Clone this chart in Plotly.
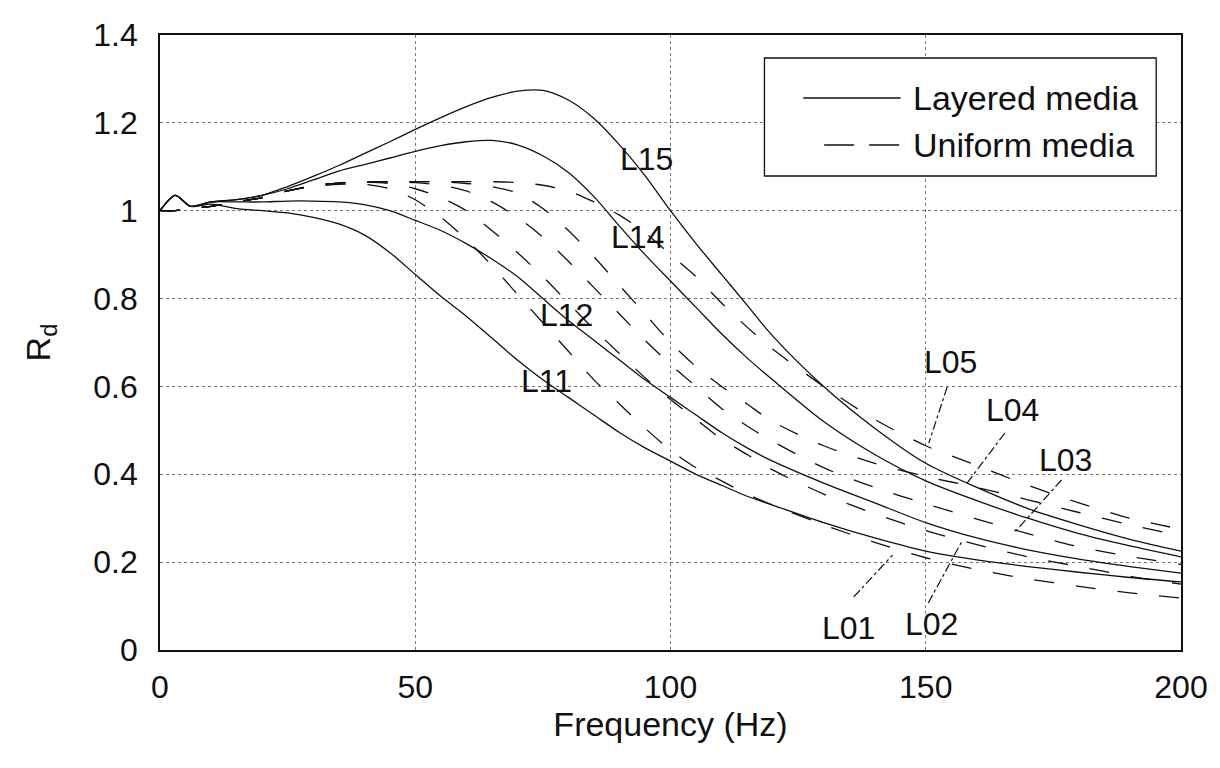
import plotly.graph_objects as go

# Frequency grid (Hz) shared by every curve
freq = [0, 3, 6, 10, 15, 20, 25, 30, 35, 40, 45, 50, 55, 60, 65, 70, 75, 80, 85,
        90, 95, 100, 105, 110, 115, 120, 130, 140, 150, 160, 170, 180, 190, 200]

# Layered media responses R_d
L11 = [1.0, 1.035, 1.01, 1.015, 1.005, 1.0, 0.995, 0.985, 0.97, 0.945, 0.905, 0.855, 0.805,
       0.76, 0.71, 0.66, 0.615, 0.575, 0.535, 0.495, 0.46, 0.43, 0.40, 0.375, 0.35, 0.33,
       0.29, 0.255, 0.225, 0.205, 0.19, 0.177, 0.165, 0.155]
L12 = [1.0, 1.035, 1.01, 1.02, 1.02, 1.02, 1.022, 1.022, 1.02, 1.014, 1.0, 0.978, 0.955,
       0.925, 0.89, 0.85, 0.80, 0.75, 0.705, 0.66, 0.615, 0.575, 0.535, 0.495, 0.46, 0.43,
       0.38, 0.335, 0.29, 0.255, 0.228, 0.207, 0.19, 0.175]
L14 = [1.0, 1.035, 1.01, 1.02, 1.025, 1.035, 1.05, 1.07, 1.09, 1.105, 1.12, 1.135, 1.148,
       1.157, 1.16, 1.15, 1.125, 1.087, 1.032, 0.965, 0.9, 0.84, 0.78, 0.72, 0.665, 0.615,
       0.52, 0.445, 0.385, 0.34, 0.30, 0.265, 0.237, 0.212]
L15 = [1.0, 1.035, 1.01, 1.02, 1.025, 1.035, 1.055, 1.078, 1.103, 1.13, 1.157, 1.185, 1.212,
       1.237, 1.258, 1.272, 1.274, 1.252, 1.21, 1.15, 1.08, 1.0, 0.925, 0.855, 0.785, 0.715,
       0.6, 0.505, 0.425, 0.37, 0.322, 0.285, 0.252, 0.225]

# Uniform media responses R_d
L01 = [1.0, 1.0, 1.005, 1.01, 1.02, 1.03, 1.045, 1.055, 1.06, 1.06, 1.05, 1.025, 0.985,
       0.935, 0.875, 0.81, 0.745, 0.68, 0.615, 0.56, 0.505, 0.455, 0.415, 0.385, 0.355, 0.33,
       0.285, 0.245, 0.21, 0.183, 0.162, 0.145, 0.13, 0.118]
L02 = [1.0, 1.0, 1.005, 1.01, 1.02, 1.03, 1.045, 1.057, 1.063, 1.065, 1.062, 1.05, 1.03,
       1.0, 0.955, 0.905, 0.85, 0.79, 0.73, 0.675, 0.62, 0.57, 0.525, 0.48, 0.445, 0.41,
       0.355, 0.31, 0.272, 0.24, 0.212, 0.19, 0.168, 0.15]
L03 = [1.0, 1.0, 1.005, 1.01, 1.02, 1.03, 1.045, 1.057, 1.063, 1.065, 1.066, 1.064, 1.058,
       1.045, 1.02, 0.985, 0.94, 0.885, 0.825, 0.765, 0.705, 0.65, 0.6, 0.55, 0.51, 0.475,
       0.415, 0.37, 0.333, 0.298, 0.265, 0.235, 0.213, 0.195]
L04 = [1.0, 1.0, 1.005, 1.01, 1.02, 1.03, 1.045, 1.057, 1.063, 1.065, 1.066, 1.066, 1.066,
       1.062, 1.055, 1.04, 1.005, 0.955, 0.895, 0.83, 0.765, 0.70, 0.645, 0.6, 0.56, 0.52,
       0.465, 0.425, 0.395, 0.37, 0.342, 0.313, 0.285, 0.26]
L05 = [1.0, 1.0, 1.005, 1.01, 1.02, 1.03, 1.045, 1.057, 1.063, 1.065, 1.066, 1.066, 1.066,
       1.066, 1.066, 1.064, 1.058, 1.045, 1.02, 0.99, 0.95, 0.90, 0.85, 0.79, 0.735, 0.685,
       0.6, 0.525, 0.465, 0.42, 0.375, 0.335, 0.30, 0.275]

layered = {"L11": L11, "L12": L12, "L14": L14, "L15": L15}
uniform = {"L01": L01, "L02": L02, "L03": L03, "L04": L04, "L05": L05}

# Curve labels: text, label position (f, R)
label_names = ["L15", "L14", "L12", "L11", "L05", "L04", "L03", "L02", "L01"]
label_f = [95.2, 93.6, 79.7, 75.8, 154.8, 166.9, 177.4, 151.1, 134.8]
label_r = [1.118, 0.94, 0.763, 0.612, 0.655, 0.546, 0.432, 0.059, 0.05]

# Leader lines from labels to curves: (f0, R0, f1, R1)
leader_names = ["L05", "L04", "L03", "L02", "L01"]
leader_f0 = [154.2, 165.5, 176.6, 150.5, 135.9]
leader_r0 = [0.599, 0.494, 0.387, 0.107, 0.121]
leader_f1 = [150.6, 158.1, 167.5, 157.2, 143.5]
leader_r1 = [0.471, 0.380, 0.269, 0.250, 0.216]

FONT = "Arial, Liberation Sans, sans-serif"
INK = "#111111"

fig = go.Figure()

for name, vals in layered.items():
    fig.add_trace(go.Scatter(x=freq, y=vals, mode="lines", name=name,
                             line=dict(color=INK, width=1.3, shape="spline", smoothing=0.8),
                             showlegend=False))
for name, vals in uniform.items():
    fig.add_trace(go.Scatter(x=freq, y=vals, mode="lines", name=name,
                             line=dict(color=INK, width=1.3, dash="20px,22px",
                                       shape="spline", smoothing=0.8),
                             showlegend=False))

annotations = []
for t, f, r in zip(label_names, label_f, label_r):
    annotations.append(dict(x=f, y=r, xref="x", yref="y", text=t, showarrow=False,
                            xanchor="center", yanchor="middle",
                            font=dict(family=FONT, size=32, color=INK)))

shapes = []
for f0, r0, f1, r1 in zip(leader_f0, leader_r0, leader_f1, leader_r1):
    shapes.append(dict(type="line", xref="x", yref="y", x0=f0, y0=r0, x1=f1, y1=r1,
                       line=dict(color=INK, width=1.2, dash="dashdot")))

# Legend box drawn in paper coordinates
shapes.append(dict(type="rect", xref="paper", yref="paper", x0=0.592, x1=0.9757,
                   y0=0.7707, y1=0.9626, line=dict(color=INK, width=1.3),
                   fillcolor="white", layer="above"))
shapes.append(dict(type="line", xref="paper", yref="paper", x0=0.630, x1=0.7254,
                   y0=0.8976, y1=0.8976, line=dict(color=INK, width=1.3)))
shapes.append(dict(type="line", xref="paper", yref="paper", x0=0.6505, x1=0.7254,
                   y0=0.821, y1=0.821, line=dict(color=INK, width=1.5, dash="30px,15px")))
annotations.append(dict(x=0.7352, y=0.8976, xref="paper", yref="paper", text="Layered media",
                        showarrow=False, xanchor="left", yanchor="middle",
                        font=dict(family=FONT, size=34, color=INK)))
annotations.append(dict(x=0.7352, y=0.821, xref="paper", yref="paper", text="Uniform media",
                        showarrow=False, xanchor="left", yanchor="middle",
                        font=dict(family=FONT, size=34, color=INK)))

fig.update_layout(
    width=1220, height=768,
    margin=dict(l=160, r=33, t=35, b=118),
    paper_bgcolor="white", plot_bgcolor="white",
    font=dict(family=FONT, size=32, color=INK),
    shapes=shapes, annotations=annotations,
    showlegend=False,
)
fig.update_xaxes(range=[0, 200], tickvals=[0, 50, 100, 150, 200], showline=True,
                 linecolor=INK, linewidth=1.8, mirror=True, ticks="",
                 showgrid=True, gridcolor="#777777", griddash="dot", gridwidth=1,
                 zeroline=False, ticklabelstandoff=8,
                 title=dict(text="Frequency (Hz)", font=dict(size=34), standoff=2))
fig.update_yaxes(range=[0, 1.4], tickvals=[0, 0.2, 0.4, 0.6, 0.8, 1, 1.2, 1.4],
                 ticktext=["0", "0.2", "0.4", "0.6", "0.8", "1", "1.2", "1.4"],
                 showline=True, linecolor=INK, linewidth=1.8, mirror=True, ticks="",
                 showgrid=True, gridcolor="#777777", griddash="dot", gridwidth=1,
                 zeroline=False, ticklabelstandoff=14,
                 title=dict(text="R<sub>d</sub>", font=dict(size=34), standoff=32))

fig.write_html("out.html")
